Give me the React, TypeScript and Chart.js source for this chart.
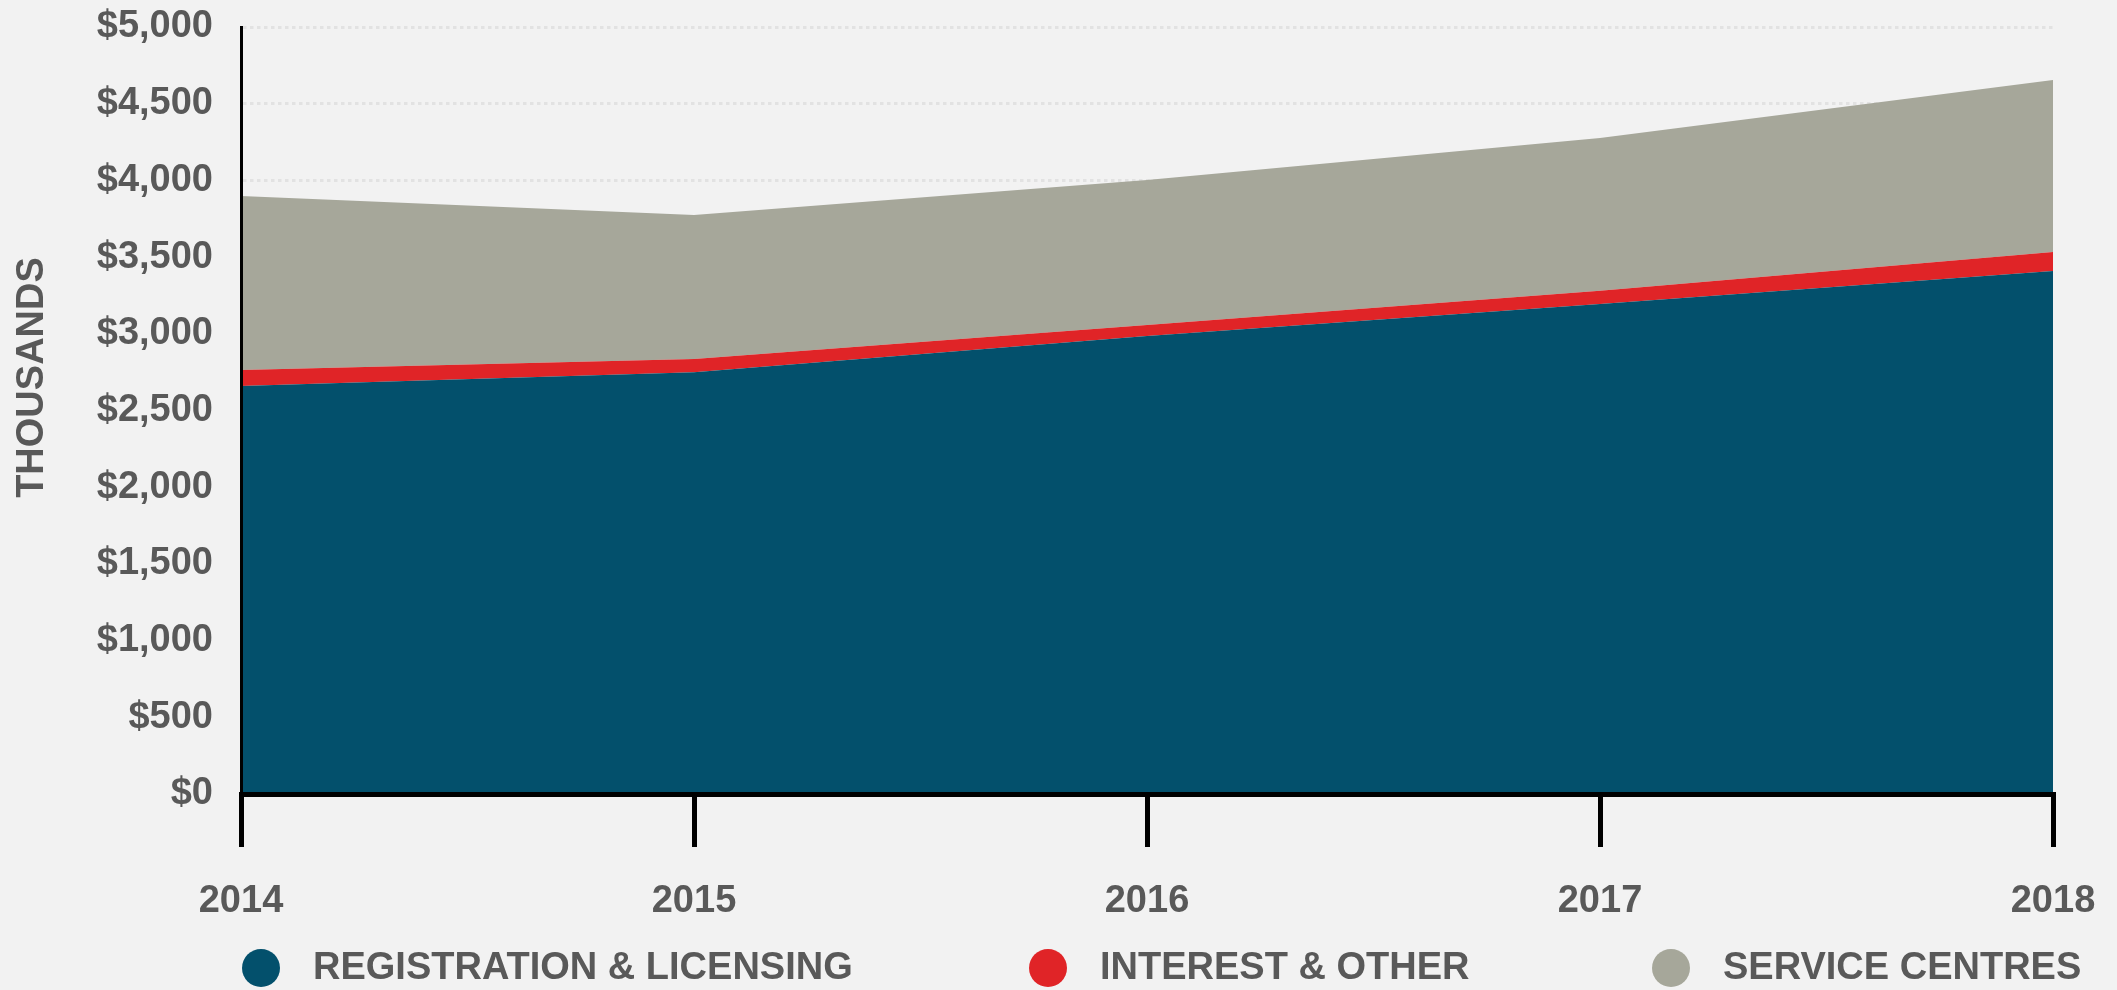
import React, { useEffect, useRef } from 'react';
import { Chart, registerables } from 'chart.js';

Chart.register(...registerables);

// ---- data ----
const years = ['2014', '2015', '2016', '2017', '2018'];
const registrationLicensing = [2660, 2750, 2985, 3195, 3410];
const interestOther = [104, 86, 72, 85, 124];
const serviceCentres = [1134, 938, 946, 997, 1121];
const seriesLabels = ['REGISTRATION & LICENSING', 'INTEREST & OTHER', 'SERVICE CENTRES'];
const yAxisTitle = 'THOUSANDS';
const yMin = 0;
const yMax = 5000;
const yStep = 500;

// ---- styles ----
const COLORS = ['#03506c', '#e02427', '#a6a79a'];
const TEXT_COLOR = '#595959';
const BG = '#f2f2f2';
const FAMILY = '"Liberation Sans", Arial, Helvetica, sans-serif';
const FONT_SIZE = 38;
const LEGEND_X = [242, 1029, 1652];
const LEGEND_Y = 968;
const LEGEND_R = 19;
const LEGEND_TEXT_GAP = 71;

const overlayPlugin = {
  id: 'overlay',
  afterDraw(chart: any) {
    const ctx = chart.ctx;
    const area = chart.chartArea;
    ctx.save();
    ctx.font = `bold ${FONT_SIZE}px ${FAMILY}`;
    ctx.fillStyle = TEXT_COLOR;
    // y axis title
    ctx.save();
    ctx.translate(33, area.top + (area.bottom - area.top) * 0.457);
    ctx.rotate(-Math.PI / 2);
    ctx.textAlign = 'center';
    ctx.textBaseline = 'middle';
    ctx.fillText(yAxisTitle, 0, 0);
    ctx.restore();
    // legend
    chart.data.datasets.forEach((ds: any, i: number) => {
      const x = LEGEND_X[i];
      ctx.beginPath();
      ctx.fillStyle = ds.backgroundColor;
      ctx.arc(x + LEGEND_R, LEGEND_Y, LEGEND_R, 0, Math.PI * 2);
      ctx.fill();
      ctx.fillStyle = TEXT_COLOR;
      ctx.textAlign = 'left';
      ctx.textBaseline = 'middle';
      ctx.fillText(ds.label, x + LEGEND_TEXT_GAP, LEGEND_Y + 1);
    });
    ctx.restore();
  },
};

export default function App() {
  const canvasRef = useRef<HTMLCanvasElement | null>(null);

  useEffect(() => {
    if (!canvasRef.current) return;
    const font = { family: FAMILY, size: FONT_SIZE, weight: 'bold' as const };
    const seriesValues = [registrationLicensing, interestOther, serviceCentres];
    const chart = new Chart(canvasRef.current, {
      type: 'line',
      data: {
        labels: years,
        datasets: seriesValues.map((values, i) => ({
          label: seriesLabels[i],
          data: values,
          backgroundColor: COLORS[i],
          borderColor: COLORS[i],
          borderWidth: 0,
          pointRadius: 0,
          tension: 0,
          fill: i === 0 ? 'origin' : '-1',
        })),
      },
      options: {
        animation: false,
        responsive: true,
        maintainAspectRatio: false,
        devicePixelRatio: 1,
        layout: { padding: { top: 27, right: 64, bottom: 0, left: 0 } },
        plugins: {
          legend: { display: false },
          tooltip: { enabled: false },
        },
        scales: {
          x: {
            offset: false,
            grid: {
              display: true,
              drawOnChartArea: false,
              drawTicks: true,
              tickLength: 53,
              tickWidth: 5,
              tickColor: '#000',
              color: '#000',
              lineWidth: 5,
            },
            border: { display: true, color: '#000', width: 5, z: 1 },
            ticks: { color: TEXT_COLOR, font, padding: 32, maxRotation: 0, autoSkip: false },
            afterFit: (s: any) => {
              s.height = 196;
              s.paddingLeft = 0;
              s.paddingRight = 0;
              s.paddingTop = 0;
              s.paddingBottom = 0;
            },
          },
          y: {
            stacked: true,
            min: yMin,
            max: yMax,
            ticks: {
              stepSize: yStep,
              color: TEXT_COLOR,
              font,
              padding: 28,
              callback: (v: any) => '$' + Number(v).toLocaleString('en-US'),
            },
            grid: { color: '#e2e2e2', lineWidth: 3, drawTicks: false },
            border: { display: true, color: '#000', width: 3, dash: [3.5, 3.5], z: 1 },
            afterFit: (s: any) => {
              s.width = 241;
              s.paddingLeft = 0;
              s.paddingRight = 0;
              s.paddingTop = 0;
              s.paddingBottom = 0;
            },
          },
        },
      },
      plugins: [overlayPlugin],
    });
    return () => chart.destroy();
  }, []);

  return (
    <div
      style={{
        position: 'fixed',
        left: 0,
        top: 0,
        width: 2117,
        height: 990,
        background: BG,
      }}
    >
      <canvas ref={canvasRef} />
    </div>
  );
}
